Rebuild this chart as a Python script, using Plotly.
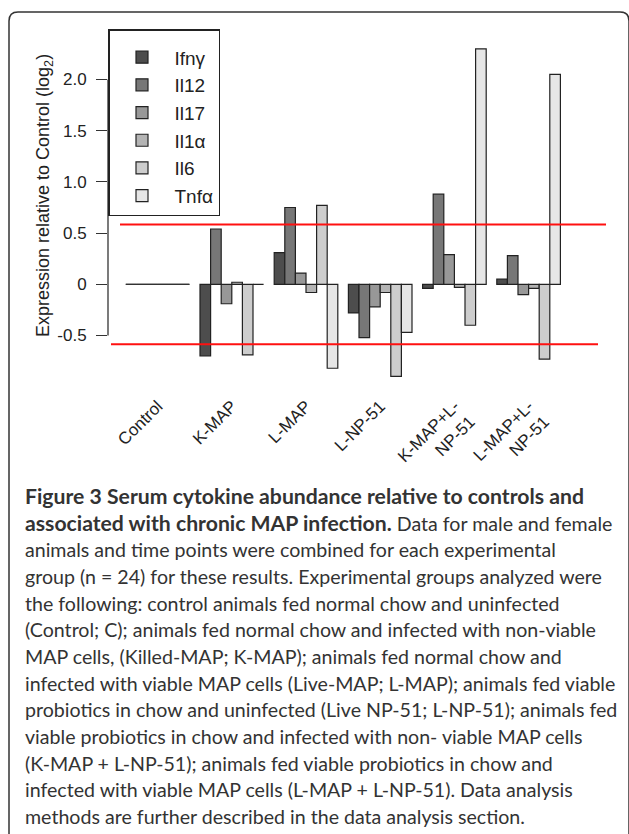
import math
import plotly.graph_objects as go

# ---------------- data ----------------
groups = ["Control", "K-MAP", "L-MAP", "L-NP-51", "K-MAP+L-<br>NP-51", "L-MAP+L-<br>NP-51"]
cytokines = ["Ifnγ", "Il12", "Il17", "Il1α", "Il6", "Tnfα"]
ifng = [0, -0.70, 0.31, -0.28, -0.04, 0.05]
il12 = [0, 0.54, 0.75, -0.52, 0.88, 0.28]
il17 = [0, -0.19, 0.11, -0.22, 0.29, -0.10]
il1a = [0, 0.02, -0.08, -0.08, -0.03, -0.04]
il6 = [0, -0.69, 0.77, -0.90, -0.40, -0.73]
tnfa = [0, 0, -0.82, -0.47, 2.30, 2.05]
series = [ifng, il12, il17, il1a, il6, tnfa]
colors = ["#4D4D4D", "#777777", "#989898", "#B4B4B4", "#CDCDCD", "#E6E6E6"]
ytick_vals = [-0.5, 0, 0.5, 1.0, 1.5, 2.0]
ytick_text = ["-0.5", "0", "0.5", "1.0", "1.5", "2.0"]
threshold = math.log2(1.5)

caption_bold = [
    "Figure 3 Serum cytokine abundance relative to controls and",
    "associated with chronic MAP infection.",
]
caption_lines = [
    " Data for male and female",
    "animals and time points were combined for each experimental",
    "group (n = 24) for these results. Experimental groups analyzed were",
    "the following: control animals fed normal chow and uninfected",
    "(Control; C); animals fed normal chow and infected with non-viable",
    "MAP cells, (Killed-MAP; K-MAP); animals fed normal chow and",
    "infected with viable MAP cells (Live-MAP; L-MAP); animals fed viable",
    "probiotics in chow and uninfected (Live NP-51; L-NP-51); animals fed",
    "viable probiotics in chow and infected with non- viable MAP cells",
    "(K-MAP + L-NP-51); animals fed viable probiotics in chow and",
    "infected with viable MAP cells (L-MAP + L-NP-51). Data analysis",
    "methods are further described in the data analysis section.",
]

# ---------------- layout geometry ----------------
W, H = 629, 834
L, R, T, B = 108, 610, 29, 392
BARGAP = 1 / 7
FONT = "Liberation Sans, Arial, sans-serif"


def px2x(px):
    return (px - L) / (R - L)


def py2y(py):
    return (B - py) / (B - T)


def bold(s):
    return f'<b><span style="font-size:21.2px">{s}</span></b>'


def reg(s):
    return f'<span style="font-size:19.6px">{s}</span>'


caption = "<br>".join([
    bold(caption_bold[0]),
    bold(caption_bold[1]) + reg(caption_lines[0]),
] + [reg(s) for s in caption_lines[1:]])

x_idx = list(range(len(groups)))

fig = go.Figure()
for i, (name, vals, col) in enumerate(zip(cytokines, series, colors)):
    fig.add_trace(go.Bar(
        x=x_idx, y=vals, name=name, legendgroup=f"g{i}",
        marker=dict(color=col, line=dict(color="#222222", width=1.2)),
    ))

# control group: all-zero bars appear as a flat outline
half = (1 - BARGAP) / 2
fig.add_shape(type="line", xref="x", yref="y",
              x0=x_idx[0] - half, x1=x_idx[0] + half, y0=ifng[0], y1=ifng[0],
              line=dict(color="#333333", width=1.2))

# y axis line (only spans tick range)
fig.add_shape(type="line", xref="paper", yref="y", x0=0, x1=0,
              y0=ytick_vals[0], y1=ytick_vals[-1],
              line=dict(color="#333333", width=1.3))

# red reference lines
fig.add_shape(type="line", xref="paper", yref="y", x0=px2x(120), x1=px2x(606),
              y0=threshold, y1=threshold, line=dict(color="#FF1010", width=2))
fig.add_shape(type="line", xref="paper", yref="y", x0=px2x(111), x1=px2x(598),
              y0=-threshold, y1=-threshold, line=dict(color="#FF1010", width=2))

# outer rounded frame
x0, x1 = px2x(9), px2x(629)
y0, y1 = py2y(12), py2y(840)
rx, ry = 9 / (R - L), 9 / (B - T)
path = (f"M {x0},{y1} L {x0},{y0 - ry} Q {x0},{y0} {x0 + rx},{y0} "
        f"L {x1 - rx},{y0} Q {x1},{y0} {x1},{y0 - ry} L {x1},{y1}")
fig.add_shape(type="path", xref="paper", yref="paper", path=path,
              line=dict(color="#333333", width=1.5))

# y title
fig.add_annotation(xref="paper", yref="paper", x=px2x(44), y=py2y(196),
                   xanchor="center", yanchor="middle",
                   text="Expression relative to Control (log<sub>2</sub>)",
                   textangle=-90, showarrow=False,
                   font=dict(family=FONT, size=18, color="#222222"))

# caption
fig.add_annotation(xref="paper", yref="paper", x=px2x(23), y=py2y(481),
                   xanchor="left", yanchor="top", align="left",
                   text=caption, showarrow=False,
                   font=dict(family="Lato, sans-serif", size=20.5, color="#333333"))

fig.update_layout(
    width=W, height=H,
    margin=dict(l=L, r=W - R, t=T, b=H - B),
    paper_bgcolor="white", plot_bgcolor="white",
    barmode="group", bargap=BARGAP, bargroupgap=0,
    font=dict(family=FONT, color="#222222"),
    showlegend=True,
    legend=dict(x=0, y=1, xanchor="left", yanchor="top",
                bordercolor="#222222", borderwidth=1.5, bgcolor="white",
                font=dict(family=FONT, size=19, color="#222222"),
                title=dict(text=" ", font=dict(size=6)),
                itemwidth=55, traceorder="normal", tracegroupgap=0),
    xaxis=dict(range=[(L - 157.6) / 74.2, (R - 157.6) / 74.2],
               tickvals=x_idx, ticktext=groups, tickangle=-45,
               showgrid=False, zeroline=False, showline=False, ticks="",
               tickfont=dict(family=FONT, size=17, color="#222222")),
    yaxis=dict(range=[-(B - 284.3) / 102.4, (284.3 - T) / 102.4],
               tickvals=ytick_vals, ticktext=ytick_text,
               ticks="outside", ticklen=11, tickwidth=1.3, tickcolor="#333333",
               ticklabelstandoff=6,
               showgrid=False, zeroline=False, showline=False,
               tickfont=dict(family=FONT, size=17, color="#222222")),
)

fig.write_html("out.html", config={"displayModeBar": False},
               post_script="document.body.style.margin='0px';")
